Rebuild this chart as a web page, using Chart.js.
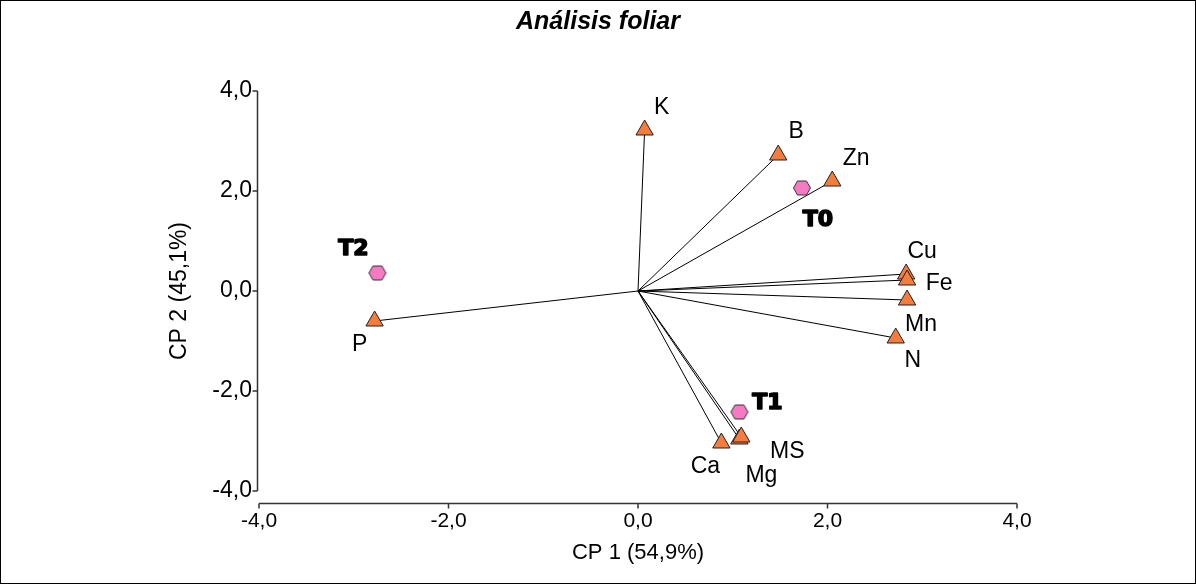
<!DOCTYPE html>
<html>
<head>
<meta charset="utf-8">
<script src="https://cdn.jsdelivr.net/npm/chart.js@4.4.1/dist/chart.umd.min.js"></script>
<style>
  html, body { margin: 0; padding: 0; background: #fff; }
  #wrap { width: 1196px; height: 584px; }
</style>
</head>
<body>
<div id="wrap"><canvas id="myChart" width="1196" height="584"></canvas></div>
<script>
// ---------------------------------------------------------------
// Biplot data (CP 1 / CP 2)
// ---------------------------------------------------------------

const varNames = ['K', 'B', 'Zn', 'Cu', 'Fe', 'Mn', 'N', 'P', 'Ca', 'Mg', 'MS'];
const varCP1 = [0.07, 1.48, 2.05, 2.83, 2.84, 2.84, 2.72, -2.78, 0.88, 1.07, 1.09];
const varCP2 = [3.22, 2.72, 2.20, 0.34, 0.22, -0.18, -0.94, -0.60, -3.04, -2.96, -2.92];

const trtNames = ['T0', 'T1', 'T2'];
const trtCP1 = [1.73, 1.07, -2.75];
const trtCP2 = [2.06, -2.42, 0.36];

const tickValues = [-4, -2, 0, 2, 4];

// label offsets in pixels (only for placing the text next to each mark)
var varLabelDx = [17, 18, 24, 16, 32, 14, 17, -15, -16, 22, 46];
var varLabelDy = [-22, -23, -22, -22, 4, 25, 23, 24, 24, 37, 15];
var trtLabelDx = [16, 28, -24];
var trtLabelDy = [32, -9, -24];

var orange = '#F47C3C';
var pink = '#F67AC3';
var sans = '"Liberation Sans", Arial, sans-serif';

function fmt(v) {
    return v.toFixed(1).replace('.', ',');
}

// hexagon marker for the treatments
function hexagon() {
    var c = document.createElement('canvas');
    c.width = 20; c.height = 18;
    var g = c.getContext('2d');
    g.beginPath();
    g.moveTo(1.5, 9);
    g.lineTo(5.5, 2);
    g.lineTo(14.5, 2);
    g.lineTo(18.5, 9);
    g.lineTo(14.5, 16);
    g.lineTo(5.5, 16);
    g.closePath();
    g.fillStyle = pink;
    g.fill();
    g.strokeStyle = '#333';
    g.lineWidth = 1;
    g.stroke();
    return c;
}

var datasets = [];

// vectors from the origin to each variable
for (var i = 0; i < varNames.length; i++) {
    datasets.push({
        label: varNames[i] + ' vector',
        data: [{x: 0, y: 0}, {x: varCP1[i], y: varCP2[i]}],
        showLine: true,
        borderColor: '#000',
        borderWidth: 1,
        pointRadius: 0,
        order: 3
    });
}

datasets.push({
    label: 'variables',
    data: varCP1.map(function (x, i) { return {x: x, y: varCP2[i]}; }),
    pointStyle: 'triangle',
    pointRadius: 10,
    backgroundColor: orange,
    borderColor: '#222',
    borderWidth: 1,
    order: 2,
    names: varNames,
    dx: varLabelDx,
    dy: varLabelDy,
    labelFont: '23px ' + sans,
    heavy: false
});

datasets.push({
    label: 'tratamientos',
    data: trtCP1.map(function (x, i) { return {x: x, y: trtCP2[i]}; }),
    pointStyle: hexagon(),
    pointRadius: 9,
    order: 1,
    names: trtNames,
    dx: trtLabelDx,
    dy: trtLabelDy,
    labelFont: 'bold 22px "DejaVu Sans", sans-serif',
    heavy: true
});

// white page, outer frame and title
const framePlugin = {
    id: 'frame',
    beforeDraw(chart) {
        var c = chart.ctx;
        c.save();
        c.fillStyle = '#fff';
        c.fillRect(0, 0, chart.width, chart.height);
        c.restore();
    },
    afterDraw(chart) {
        var c = chart.ctx;
        c.save();
        c.strokeStyle = '#000';
        c.lineWidth = 1;
        c.strokeRect(0.5, 0.5, chart.width - 1, chart.height - 1);
        c.fillStyle = '#000';
        c.textAlign = 'center';
        c.textBaseline = 'middle';
        c.font = 'italic bold 25px ' + sans;
        c.fillText('Análisis foliar', chart.width / 2, 22);
        c.restore();
    }
};

// detached axis lines with outward ticks
const axesPlugin = {
    id: 'axes',
    afterDraw(chart) {
        var c = chart.ctx;
        var xs = chart.scales.x, ys = chart.scales.y;
        var ax = Math.round(chart.chartArea.left) - 1.5;
        var ay = Math.round(chart.chartArea.bottom) + 12.5;
        c.save();
        c.strokeStyle = '#333';
        c.lineWidth = 1.5;
        c.beginPath();
        c.moveTo(ax, ys.getPixelForValue(4));
        c.lineTo(ax, ys.getPixelForValue(-4));
        tickValues.forEach(function (t) {
            var py = ys.getPixelForValue(t);
            c.moveTo(ax, py);
            c.lineTo(ax - 5, py);
        });
        c.moveTo(xs.getPixelForValue(-4), ay);
        c.lineTo(xs.getPixelForValue(4), ay);
        tickValues.forEach(function (t) {
            var px = xs.getPixelForValue(t);
            c.moveTo(px, ay);
            c.lineTo(px, ay + 5);
        });
        c.stroke();
        c.restore();
    }
};

// point names
const namesPlugin = {
    id: 'names',
    afterDatasetsDraw(chart) {
        var c = chart.ctx;
        c.save();
        c.fillStyle = '#000';
        c.strokeStyle = '#000';
        c.lineJoin = 'round';
        c.textAlign = 'center';
        c.textBaseline = 'middle';
        chart.data.datasets.forEach(function (ds, k) {
            if (!ds.names) return;
            var meta = chart.getDatasetMeta(k);
            c.font = ds.labelFont;
            c.lineWidth = 1.6;
            meta.data.forEach(function (pt, i) {
                var tx = pt.x + ds.dx[i], ty = pt.y + ds.dy[i];
                if (ds.heavy) c.strokeText(ds.names[i], tx, ty);
                c.fillText(ds.names[i], tx, ty);
            });
        });
        c.restore();
    }
};

const config = {
    type: 'scatter',
    data: { datasets: datasets },
    options: {
        responsive: false,
        animation: false,
        events: [],
        layout: { padding: { left: 0, right: 179, top: 91, bottom: 0 } },
        plugins: {
            legend: { display: false },
            tooltip: { enabled: false },
            title: { display: false }
        },
        scales: {
            x: {
                type: 'linear',
                min: -4, max: 4,
                afterBuildTicks(scale) { scale.ticks = tickValues.map(function (v) { return {value: v}; }); },
                afterFit(scale) { scale.height = 93; },
                grid: { display: false, drawTicks: false },
                border: { display: false },
                ticks: {
                    color: '#000',
                    padding: 18,
                    maxRotation: 0,
                    font: { family: sans, size: 21 },
                    callback: function (v) { return fmt(v); }
                },
                title: {
                    display: true,
                    text: 'CP 1 (54,9%)',
                    color: '#000',
                    font: { family: sans, size: 22, lineHeight: 1.2 },
                    padding: { top: 0, bottom: 18 }
                }
            },
            y: {
                type: 'linear',
                min: -4, max: 4,
                afterBuildTicks(scale) { scale.ticks = tickValues.map(function (v) { return {value: v}; }); },
                afterFit(scale) { scale.width = 259; },
                grid: { display: false, drawTicks: false },
                border: { display: false },
                ticks: {
                    color: '#000',
                    padding: 7,
                    font: { family: sans, size: 23 },
                    callback: function (v) { return fmt(v); }
                },
                title: {
                    display: true,
                    text: 'CP 2 (45,1%)',
                    color: '#000',
                    font: { family: sans, size: 23, lineHeight: 1.2 },
                    padding: { top: 166, bottom: 0 }
                }
            }
        }
    },
    plugins: [framePlugin, axesPlugin, namesPlugin]
};

var biplot = new Chart(document.getElementById('myChart'), config);
</script>
</body>
</html>
